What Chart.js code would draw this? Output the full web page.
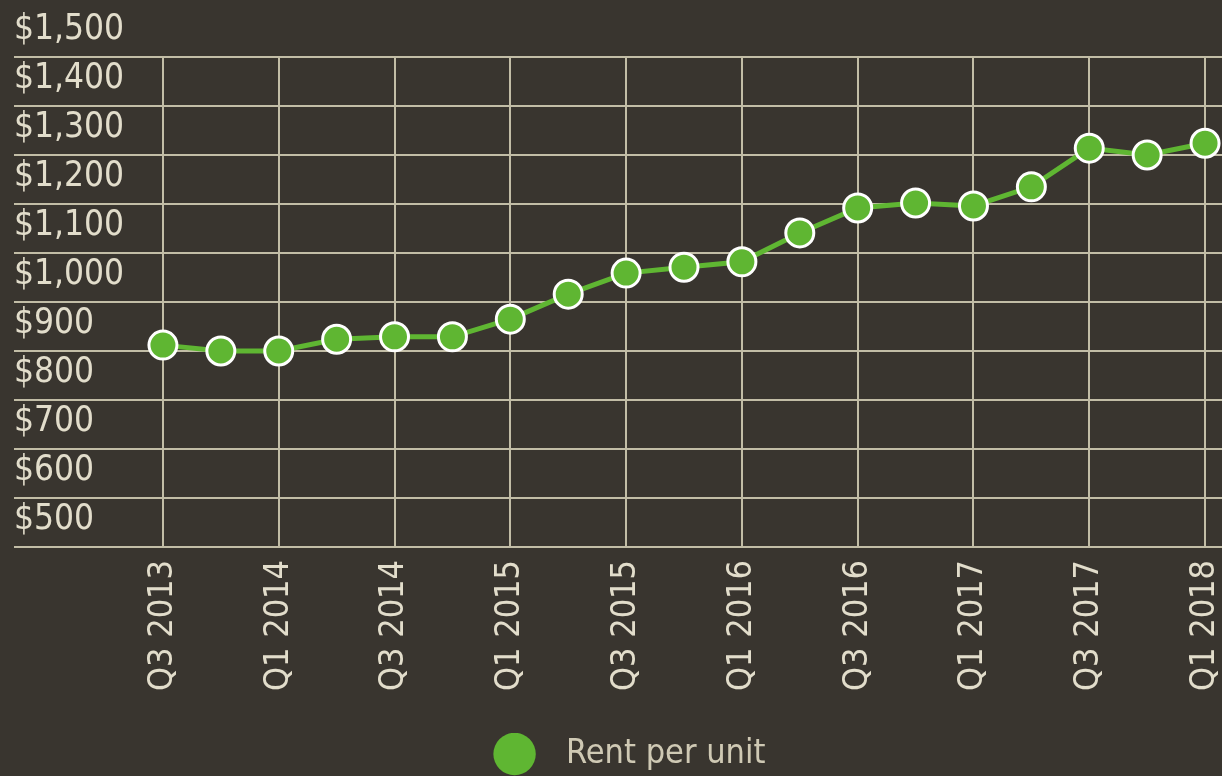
<!DOCTYPE html>
<html>
<head>
<meta charset="utf-8">
<script src="https://cdn.jsdelivr.net/npm/chart.js@4.4.0/dist/chart.umd.min.js"></script>
<style>
  html, body { margin: 0; padding: 0; background: #39352f; overflow: hidden; }
  canvas { display: block; }
</style>
</head>
<body>
<canvas id="rentChart" width="1251" height="781"></canvas>
<script>
// Quarters, every other one gets a tick label
const quarters = [
  'Q3 2013', 'Q4 2013', 'Q1 2014', 'Q2 2014', 'Q3 2014', 'Q4 2014',
  'Q1 2015', 'Q2 2015', 'Q3 2015', 'Q4 2015', 'Q1 2016', 'Q2 2016',
  'Q3 2016', 'Q4 2016', 'Q1 2017', 'Q2 2017', 'Q3 2017', 'Q4 2017', 'Q1 2018'
];

// Rent per unit
const rentPerUnit = [
  912, 900, 900, 924, 929, 929, 965, 1016, 1059, 1071,
  1082, 1141, 1192, 1202, 1196, 1235, 1314, 1300, 1324
];

const seriesName = 'Rent per unit';
const yMin = 500;
const yMax = 1500;
const yStep = 100;

const fontFamily = "'Liberation Sans Narrow', 'DejaVu Sans Condensed', 'DejaVu Sans', sans-serif";
const gridColor = '#c2bda6';
const textColor = '#e2ddcb';
const green = '#5fb632';

const ctx = document.getElementById('rentChart').getContext('2d');

const myChart = new Chart(ctx, {
  type: 'line',
  data: {
    labels: quarters,
    datasets: [{
      label: seriesName,
      data: rentPerUnit,
      borderColor: green,
      backgroundColor: green,
      borderWidth: 5,
      pointRadius: 14,
      pointBorderWidth: 3,
      pointBackgroundColor: green,
      pointBorderColor: '#ffffff',
      tension: 0,
      fill: false
    }]
  },
  options: {
    responsive: false,
    animation: false,
    layout: {
      padding: { top: 57, left: 14, right: 0, bottom: 0 }
    },
    scales: {
      x: {
        offset: true,
        border: { display: false },
        grid: {
          offset: false,
          color: gridColor,
          lineWidth: 2,
          drawTicks: false
        },
        ticks: {
          autoSkip: false,
          maxRotation: 90,
          minRotation: 90,
          padding: 13,
          color: textColor,
          font: { family: fontFamily, size: 34 },
          callback: function (value, index) {
            return index % 2 === 0 ? quarters[index] : null;
          }
        },
        afterFit: function (scale) {
          scale.height = 186;
          scale.paddingLeft = 0;
          scale.paddingRight = 0;
        }
      },
      y: {
        min: yMin,
        max: yMax,
        border: { display: false },
        grid: {
          color: gridColor,
          lineWidth: 2,
          tickLength: 120
        },
        ticks: {
          stepSize: yStep,
          autoSkip: false,
          crossAlign: 'far',
          labelOffset: -27,
          color: textColor,
          font: { family: fontFamily, size: 35 },
          callback: function (value) {
            return '$' + value.toLocaleString('en-US');
          }
        },
        afterFit: function (scale) {
          scale.width = 120;
        }
      }
    },
    plugins: {
      tooltip: { enabled: false },
      legend: {
        position: 'bottom',
        labels: {
          usePointStyle: true,
          pointStyle: 'circle',
          boxWidth: 30,
          boxHeight: 30,
          padding: 4,
          color: '#cfc9b4',
          font: { family: fontFamily, size: 34 },
          generateLabels: function (chart) {
            return Chart.defaults.plugins.legend.labels.generateLabels(chart).map(item => ({
              ...item,
              text: '  ' + item.text,
              strokeStyle: 'rgba(0,0,0,0)',
              lineWidth: 0,
              pointStyle: 'circle'
            }));
          }
        }
      }
    }
  }
});
</script>
</body>
</html>
